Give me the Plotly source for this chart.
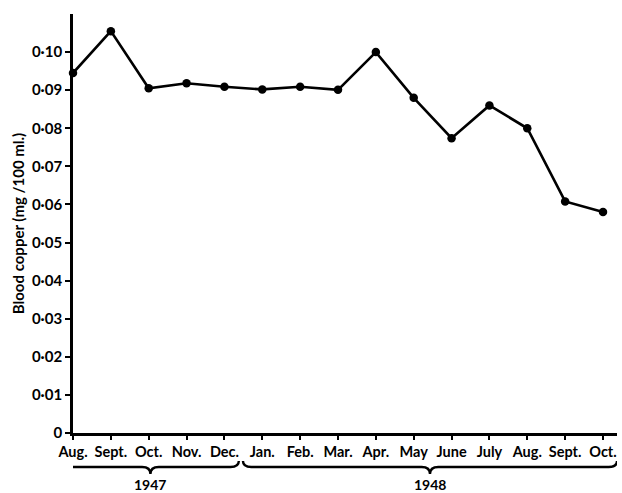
import plotly.graph_objects as go

months = ["Aug.", "Sept.", "Oct.", "Nov.", "Dec.", "Jan.", "Feb.", "Mar.",
          "Apr.", "May", "June", "July", "Aug.", "Sept.", "Oct."]
blood_copper = [0.0945, 0.1055, 0.0905, 0.0918, 0.0909, 0.0902, 0.0909, 0.0901,
                0.1000, 0.0880, 0.0774, 0.0860, 0.0800, 0.0608, 0.0580]
y_tick_vals = [0, 0.01, 0.02, 0.03, 0.04, 0.05, 0.06, 0.07, 0.08, 0.09, 0.10]
y_tick_text = ["0", "0·01", "0·02", "0·03", "0·04", "0·05", "0·06", "0·07",
               "0·08", "0·09", "0·10"]
years = ["1947", "1948"]
year_spans = [(0, 4), (5, 14)]

FONT = "Lato"
W, H = 622, 493
ML, MR, MT, MB = 73, 5, 14, 60
XMAX = 14.37
xs = list(range(len(months)))

fig = go.Figure()
fig.add_trace(go.Scatter(
    x=xs, y=blood_copper, mode="lines+markers",
    line=dict(color="black", width=2.6),
    marker=dict(color="black", size=8.5),
    cliponaxis=False, showlegend=False, hoverinfo="skip",
))

plot_h = H - MT - MB
def py(px):
    return (H - MB - px) / plot_h

def brace(x0, x1, y_line, y_end, y_tip, d=0.22):
    xc = (x0 + x1) / 2
    return (f"M {x0},{y_end} Q {x0},{y_line} {x0 + d},{y_line} "
            f"L {xc - d},{y_line} Q {xc},{y_line} {xc},{y_tip} "
            f"Q {xc},{y_line} {xc + d},{y_line} "
            f"L {x1 - d},{y_line} Q {x1},{y_line} {x1},{y_end}")

offsets = [(-0.29, 0.38), (-0.51, 0.37)]
for (a, b), (oa, ob), yr in zip(year_spans, offsets, years):
    x0, x1 = a + oa, b + ob
    fig.add_shape(type="path", xref="x", yref="paper",
                  path=brace(x0, x1, py(467), py(461), py(474)),
                  line=dict(color="black", width=2.4))
    fig.add_annotation(x=(x0 + x1) / 2, y=py(484), xref="x", yref="paper",
                       xanchor="center", yanchor="middle", borderpad=0,
                       text=f"<b>{yr}</b>", showarrow=False,
                       font=dict(family=FONT, size=14, color="black"))

fig.update_layout(
    width=W, height=H,
    margin=dict(l=ML, r=MR, t=MT, b=MB),
    paper_bgcolor="white", plot_bgcolor="white",
    font=dict(family=FONT, size=15, color="black"),
    xaxis=dict(
        range=[0, XMAX], tickvals=xs,
        ticktext=[f"<b>{m}</b>" for m in months],
        showline=True, linecolor="black", linewidth=2.8,
        ticks="outside", ticklen=4, tickwidth=2, tickcolor="black",
        showgrid=False, zeroline=False, automargin=False,
        tickfont=dict(family=FONT, size=14.5, color="black"),
    ),
    yaxis=dict(
        range=[0, 0.11], tickvals=y_tick_vals,
        ticktext=[f"<b>{t}</b>" for t in y_tick_text],
        showline=True, linecolor="black", linewidth=2.8,
        ticks="outside", ticklen=5, tickwidth=2, tickcolor="black",
        showgrid=False, zeroline=False, automargin=False,
        tickfont=dict(family=FONT, size=15, color="black"),
        title=dict(text="<b>Blood copper (mg /100 ml.)</b>",
                   font=dict(family=FONT, size=15, color="black"),
                   standoff=4),
    ),
)

fig.write_html("out.html", config={"displayModeBar": False},
               post_script="document.body.style.margin='0px';")
